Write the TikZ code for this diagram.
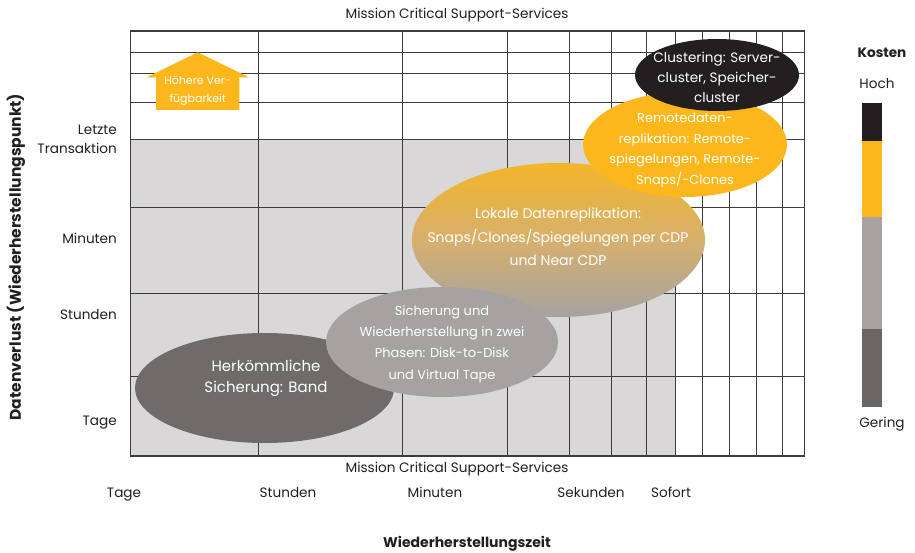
\documentclass[tikz,border=0pt]{standalone}
\usepackage{fontspec}
\setmainfont{Poppins}
\usetikzlibrary{shapes.geometric}
\definecolor{bggray}{HTML}{D9D7D8}
\definecolor{gridc}{HTML}{3C3C3C}
\definecolor{dkgray}{HTML}{706B6B}
\definecolor{mdgray}{HTML}{A6A2A2}
\definecolor{orng}{HTML}{FBB71B}
\definecolor{blk}{HTML}{231F20}
\definecolor{gradtop}{HTML}{F4B52A}
\definecolor{gradmid}{HTML}{D6B06E}
\definecolor{txt}{HTML}{231F20}
\begin{document}
\begin{tikzpicture}[x=1pt,y=-1pt,
  blob/.style={ellipse, draw=none, inner sep=0pt},
  intext/.style={align=center, text=white, inner sep=0pt, font=\fontsize{12.5}{20.5}\selectfont},
  lbl/.style={text=txt, inner sep=0pt, font=\fontsize{13.6}{19}\selectfont},
  xlbl/.style={lbl, anchor=base},
  boldlbl/.style={text=txt, inner sep=0pt, font=\bfseries\fontsize{14}{19}\selectfont},
  gline/.style={draw=gridc, line width=1pt}]
\useasboundingbox (0,0) rectangle (915,553);
\fill[white] (0,0) rectangle (915,553);

% grey field
\fill[bggray] (130.5,139.7) rectangle (675.5,456);

% grid
\foreach \xx in {258.3,402.3,507.7,569.2,611.8,646.3,675.5,702.8,729.3,756,782.5}
  \draw[gline] (\xx,31) -- (\xx,456);
\foreach \yy in {52.3,74,102.3,139.7,207.3,293,376}
  \draw[gline] (130.5,\yy) -- (804.5,\yy);
\draw[gridc, line width=1.3pt] (130.5,31) rectangle (804.5,456);

% higher availability arrow
\fill[orng] (197.7,52.3) -- (249,77.3) -- (239.3,77.3) -- (239.3,110) -- (156,110) -- (156,77.3) -- (146.7,77.3) -- cycle;
\node[align=center, text=white, inner sep=0pt, font=\fontsize{11}{18}\selectfont] (arr) at (197.7,91) {Höhere Ver-\\fügbarkeit};

% ellipses
\node[blob, fill=dkgray, minimum width=259pt, minimum height=110pt] (band) at (264.5,388) {};
\node[intext, font=\fontsize{15}{21}\selectfont] (bandt) at (266,378) {Herkömmliche\\Sicherung: Band};

\node[blob, top color=gradtop, bottom color=mdgray, middle color=gradmid, minimum width=293pt, minimum height=154pt] (lok) at (558.5,240) {};
\node[intext, font=\fontsize{14}{23.5}\selectfont] (lokt) at (558,237) {Lokale Datenreplikation:\\Snaps/Clones/Spiegelungen per CDP\\und Near CDP};

\node[blob, fill=mdgray, minimum width=232pt, minimum height=110pt] (disk) at (442,342) {};
\node[intext, font=\fontsize{13}{21.3}\selectfont] (diskt) at (442,344) {Sicherung und\\Wiederherstellung in zwei\\Phasen: Disk-to-Disk\\und Virtual Tape};

\node[blob, fill=orng, minimum width=204pt, minimum height=105pt] (remote) at (685,144.5) {};
\node[intext, font=\fontsize{12.9}{20.5}\selectfont] (remotet) at (685,150.5) {Remotedaten-\\replikation: Remote-\\spiegelungen, Remote-\\Snaps/-Clones};

\node[blob, fill=blk, minimum width=164pt, minimum height=72pt] (clus) at (717,75) {};
\node[intext, font=\fontsize{13.6}{20}\selectfont] (clust) at (717,77) {Clustering: Server-\\cluster, Speicher-\\cluster};

% titles
\node[lbl] (ttop) at (457,15) {Mission Critical Support-Services};
\node[lbl] (tbot) at (457,469) {Mission Critical Support-Services};

% x axis labels
\node[xlbl] (xt) at (124,497.5) {Tage};
\node[xlbl] (xs) at (288,497.5) {Stunden};
\node[xlbl] (xm) at (435,497.5) {Minuten};
\node[xlbl] (xk) at (591,497.5) {Sekunden};
\node[xlbl] (xf) at (671,497.5) {Sofort};
\node[boldlbl] (xaxis) at (467,544) {Wiederherstellungszeit};

% y axis labels
\node[lbl, anchor=east, align=right] (yl) at (117,139.5) {Letzte\\Transaktion};
\node[lbl, anchor=east] (ym) at (117,238) {Minuten};
\node[lbl, anchor=east] (ys) at (117,315) {Stunden};
\node[lbl, anchor=east] (yt) at (117,422.5) {Tage};
\node[boldlbl, font=\bfseries\fontsize{15.5}{19}\selectfont, rotate=90] (yaxis) at (16,257) {Datenverlust (Wiederherstellungspunkt)};

% legend
\node[boldlbl, font=\bfseries\fontsize{13.6}{19}\selectfont] (kosten) at (882,53) {Kosten};
\node[lbl] (hoch) at (877,84) {Hoch};
\fill[blk] (862,103) rectangle (882,141);
\fill[orng] (862,141) rectangle (882,217);
\fill[mdgray] (862,217) rectangle (882,329);
\fill[dkgray!95!black] (862,329) rectangle (882,407);
\node[lbl] (gering) at (882,424) {Gering};
\end{tikzpicture}
\end{document}
